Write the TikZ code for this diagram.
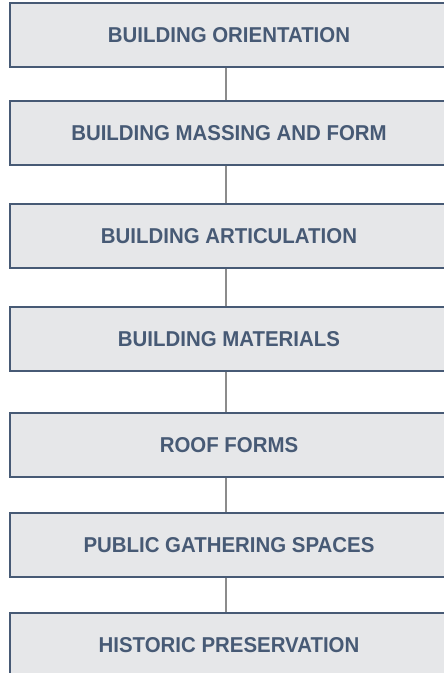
\documentclass[tikz,border=0pt]{standalone}
\usepackage{fontspec}
\setmainfont{Liberation Sans}
\newfontfamily\cimke[FakeStretch=0.95]{Liberation Sans}
\usetikzlibrary{positioning,calc}

\definecolor{slate}{HTML}{475A75}
\definecolor{panel}{HTML}{E6E7E9}
\definecolor{linkgray}{HTML}{8C8C8C}

\begin{document}
\begin{tikzpicture}[x=1pt,y=-1pt,
  stage/.style={draw=slate,line width=2.5pt,fill=panel,minimum width=438pt,minimum height=64pt,inner sep=0pt,text=slate,font=\cimke\fontsize{21.5}{24}\selectfont\bfseries},
  link/.style={draw=linkgray,line width=1.5pt}]

% Rajzterület rögzítése, a dobozok jobb széle kilóg
\useasboundingbox (0,0) rectangle (444,673);
\clip (0,0) rectangle (444,673);

% Összekötők függőleges tengelye
\coordinate (tengely) at (226,0);

% Lépések dobozai
\foreach \nn/\yy/\txt in{b1/35/BUILDING ORIENTATION,b2/133/BUILDING MASSING AND FORM,b3/236/BUILDING ARTICULATION,b4/339/BUILDING MATERIALS,b5/445/ROOF FORMS,b6/545/PUBLIC GATHERING SPACES,b7/645/HISTORIC PRESERVATION}{
\node[stage] (\nn) at (229,\yy) {\txt};
}

% Összekötő vonalak
\foreach \aa/\bb in{b1/b2,b2/b3,b3/b4,b4/b5,b5/b6,b6/b7}{
\draw[link] (\aa.south -| tengely) -- (\bb.north -| tengely);
}

\end{tikzpicture}
\end{document}
